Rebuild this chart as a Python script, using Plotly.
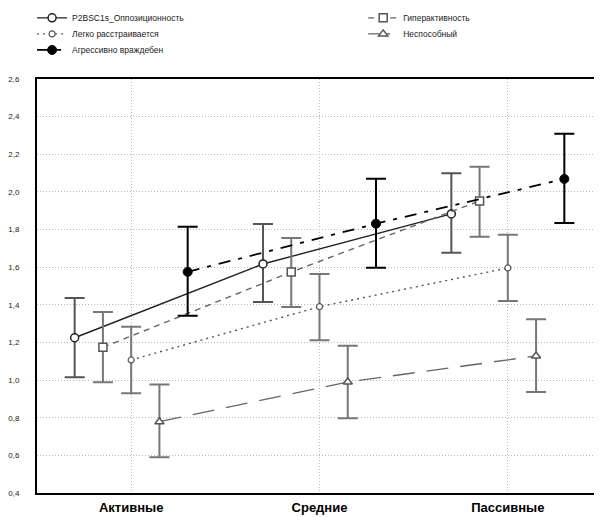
import plotly.graph_objects as go

categories = ["Активные", "Средние", "Пассивные"]
cat_index = [0, 1, 2]

series_names = ["P2BSC1s_Оппозиционность", "Гиперактивность", "Легко расстраивается",
                "Неспособный", "Агрессивно враждебен"]

opp_mean = [1.225, 1.617, 1.883]
opp_hi = [1.436, 1.830, 2.099]
opp_lo = [1.015, 1.415, 1.677]

hyp_mean = [1.174, 1.574, 1.952]
hyp_hi = [1.362, 1.755, 2.134]
hyp_lo = [0.988, 1.389, 1.762]

easy_mean = [1.107, 1.390, 1.596]
easy_hi = [1.284, 1.564, 1.773]
easy_lo = [0.930, 1.212, 1.420]

unable_mean = [0.779, 0.990, 1.128]
unable_hi = [0.976, 1.183, 1.323]
unable_lo = [0.590, 0.797, 0.937]

aggr_mean = [1.575, 1.831, 2.069]
aggr_hi = [1.815, 2.070, 2.309]
aggr_lo = [1.342, 1.597, 1.835]

y_ticks = [0.4, 0.6, 0.8, 1.0, 1.2, 1.4, 1.6, 1.8, 2.0, 2.2, 2.4, 2.6]

data = [
    (opp_mean, opp_hi, opp_lo),
    (hyp_mean, hyp_hi, hyp_lo),
    (easy_mean, easy_hi, easy_lo),
    (unable_mean, unable_hi, unable_lo),
    (aggr_mean, aggr_hi, aggr_lo),
]

offsets = [-0.3, -0.15, 0.0, 0.15, 0.3]
styles = [
    dict(line=dict(color="#222222", width=1.4, dash="solid"),
         marker=dict(symbol="circle", size=8, color="white", line=dict(color="#222222", width=1.5)),
         err="#555555"),
    dict(line=dict(color="#666666", width=1.4, dash="6px,5px"),
         marker=dict(symbol="square", size=8, color="white", line=dict(color="#555555", width=1.5)),
         err="#777777"),
    dict(line=dict(color="#555555", width=1.4, dash="2px,4px"),
         marker=dict(symbol="circle", size=6, color="white", line=dict(color="#555555", width=1.2)),
         err="#777777"),
    dict(line=dict(color="#666666", width=1.4, dash="22px,12px"),
         marker=dict(symbol="triangle-up", size=8, color="white", line=dict(color="#555555", width=1.5)),
         err="#777777"),
    dict(line=dict(color="#000000", width=1.8, dash="12px,8px,4px,8px"),
         marker=dict(symbol="circle", size=9, color="#000000", line=dict(color="#000000", width=1)),
         err="#000000"),
]

# one legend per entry so the two-column layout of the original can be reproduced
legend_ids = ["legend", "legend2", "legend3", "legend4", "legend5"]
legend_pos = [(0.040, 0.981), (0.590, 0.981), (0.040, 0.950), (0.590, 0.950), (0.040, 0.919)]

font_main = "Liberation Sans, Arial, sans-serif"

fig = go.Figure()
for name, (m, hi, lo), off, st, lid in zip(series_names, data, offsets, styles, legend_ids):
    xs = [c + off for c in cat_index]
    fig.add_trace(go.Scatter(
        x=xs, y=m, name=name, mode="lines+markers",
        line=st["line"], marker=st["marker"], legend=lid,
        error_y=dict(type="data", symmetric=False,
                     array=[h - v for h, v in zip(hi, m)],
                     arrayminus=[v - l for l, v in zip(lo, m)],
                     color=st["err"], thickness=2, width=10),
    ))

legend_layout = {}
for lid, (lx, ly) in zip(legend_ids, legend_pos):
    legend_layout[lid] = dict(
        x=lx, y=ly, xref="container", yref="container",
        xanchor="left", yanchor="middle", orientation="v",
        font=dict(size=8.5, family=font_main, color="#222"),
        itemwidth=30, bgcolor="rgba(0,0,0,0)", borderwidth=0,
    )

fig.update_layout(
    width=602, height=518,
    margin=dict(l=29, r=8, t=71, b=33, autoexpand=False),
    paper_bgcolor="white", plot_bgcolor="white",
    separators=", ",
    font=dict(family=font_main, size=9, color="#222"),
    showlegend=True,
    xaxis=dict(range=[-0.5, 2.5], tickvals=cat_index, ticktext=categories,
               showgrid=True, gridcolor="#b8b8b8", griddash="1px,2px", gridwidth=1,
               showline=True, linecolor="#000", linewidth=2, mirror=True,
               ticks="", zeroline=False,
               tickfont=dict(family=font_main, size=13, color="#000", weight="bold"),
               ticklabelstandoff=1),
    yaxis=dict(range=[0.4, 2.6], tickvals=y_ticks, tickformat=".1f",
               showgrid=True, gridcolor="#b8b8b8", griddash="1px,2px", gridwidth=1,
               showline=True, linecolor="#000", linewidth=2, mirror=False,
               ticks="", zeroline=False,
               tickfont=dict(family=font_main, size=8, color="#222"),
               ticklabelstandoff=14),
    **legend_layout,
)

fig.write_html("out.html")
